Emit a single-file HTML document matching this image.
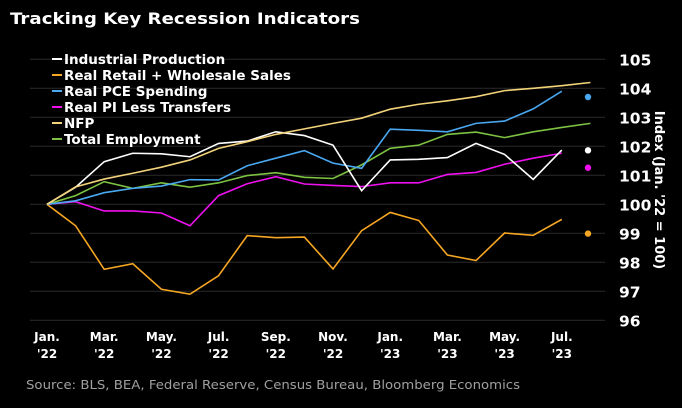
<!DOCTYPE html>
<html><head><meta charset="utf-8"><style>
body{margin:0;background:#000;width:682px;height:404px;overflow:hidden;font-family:"DejaVu Sans",sans-serif}
svg text{font-family:"DejaVu Sans","Liberation Sans",sans-serif}
</style></head><body>
<svg id="c" width="682" height="404">
<text x="10" y="24" fill="#fff" font-size="16" font-weight="bold" textLength="350" lengthAdjust="spacingAndGlyphs">Tracking Key Recession Indicators</text>
<text x="26" y="389" fill="#a0a0a0" font-size="12" textLength="494" lengthAdjust="spacingAndGlyphs">Source: BLS, BEA, Federal Reserve, Census Bureau, Bloomberg Economics</text>
<text transform="translate(655,190) rotate(90)" text-anchor="middle" fill="#fff" font-size="13" font-weight="bold">Index (Jan. '22 = 100)</text>
<g id="grid"></g><g id="lines"></g><g id="legend"></g>
</svg>
<script>
const yTicks=[96,97,98,99,100,101,102,103,104,105];
const xTickLabels=[["Jan.","'22"],["Mar.","'22"],["May.","'22"],["Jul.","'22"],["Sep.","'22"],["Nov.","'22"],["Jan.","'23"],["Mar.","'23"],["May.","'23"],["Jul.","'23"]];
const seriesNames=["Industrial Production","Real Retail + Wholesale Sales","Real PCE Spending","Real PI Less Transfers","NFP","Total Employment"];
const seriesColors=["#ffffff","#f5a623","#4aa8f0","#ee10ee","#f3d37a","#7dc242"];
const industrial=[100,100.59,101.47,101.76,101.74,101.64,102.1,102.18,102.5,102.37,102.04,100.47,101.53,101.55,101.61,102.1,101.72,100.86,101.87];
const retail=[100,99.26,97.76,97.95,97.07,96.9,97.54,98.92,98.85,98.87,97.77,99.09,99.72,99.44,98.25,98.06,99.01,98.93,99.48];
const pce=[100,100.12,100.4,100.55,100.63,100.85,100.84,101.33,101.59,101.85,101.42,101.24,102.59,102.55,102.5,102.79,102.87,103.29,103.9];
const pi=[100,100.09,99.77,99.77,99.7,99.26,100.3,100.71,100.95,100.7,100.65,100.61,100.74,100.74,101.03,101.1,101.38,101.59,101.76];
const nfp=[100,100.6,100.87,101.07,101.28,101.53,101.93,102.16,102.41,102.6,102.79,102.97,103.28,103.45,103.57,103.71,103.92,104.0,104.09,104.2];
const totalEmp=[100,100.3,100.78,100.55,100.74,100.59,100.74,100.99,101.09,100.93,100.89,101.36,101.93,102.04,102.41,102.49,102.3,102.5,102.65,102.79];
const dotValues=[101.86,98.99,103.7,101.26];
const series=[industrial,retail,pce,pi,nfp,totalEmp];
const NS="http://www.w3.org/2000/svg";
const xs=i=>47+28.6*i;
const ys=v=>204.3-(v-100)*29;
function mk(t,a,p){const e=document.createElementNS(NS,t);for(const k in a)e.setAttribute(k,a[k]);p.appendChild(e);return e;}
const grid=document.getElementById('grid');
yTicks.forEach(v=>{
 const l=mk('line',{x1:30,x2:605,y1:ys(v),y2:ys(v),stroke:'#2a2a2a','stroke-width':1},grid);
 
 
 const t=mk('text',{x:619,y:ys(v)+6,fill:'#fff','font-size':15.5,'font-weight':'bold'},grid);t.textContent=v;
 
 
});
xTickLabels.forEach((lb,j)=>{
 const x=xs(j*2);
 const t=mk('text',{x:x,y:341,fill:'#fff','font-size':12,'font-weight':'bold','text-anchor':'middle'},grid);t.textContent=lb[0];
 
 
 const t2=mk('text',{x:x,y:358,fill:'#fff','font-size':12,'font-weight':'bold','text-anchor':'middle'},grid);t2.textContent=lb[1];
 
 
});
const lines=document.getElementById('lines');
const order=[1,3,5,2,0,4];
order.forEach(k=>{
 const d=series[k].map((v,i)=>xs(i)+','+ys(v)).join(' ');
 const p=mk('polyline',{points:d,fill:'none',stroke:seriesColors[k],'stroke-width':1.6},lines);
 
 
});
dotValues.forEach((v,k)=>{
 const c=mk('circle',{cx:588,cy:ys(v),r:3.2,fill:seriesColors[k]},lines);
 
 
});
const lg=document.getElementById('legend');
seriesNames.forEach((n,k)=>{
 const y=59+16*k;
 const g=mk('g',{},lg);
 
 
 mk('line',{x1:52,x2:62,y1:y,y2:y,stroke:seriesColors[k],'stroke-width':2},g);
 const t=mk('text',{x:64,y:y+5,fill:'#fff','font-size':13.5,'font-weight':'bold'},g);t.textContent=n;
});
</script>
</body></html>
